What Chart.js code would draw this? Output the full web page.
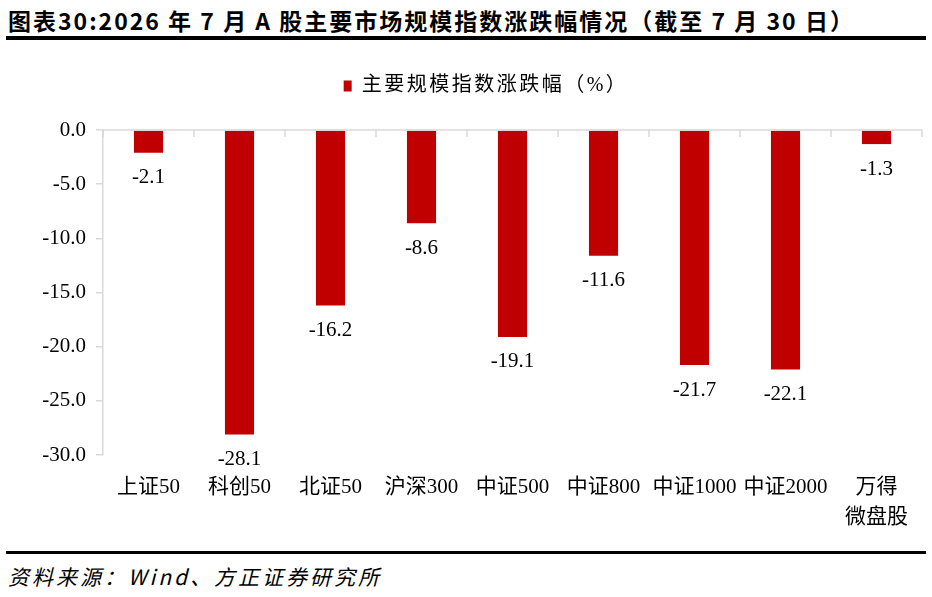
<!DOCTYPE html>
<html>
<head>
<meta charset="utf-8">
<script src="https://cdn.jsdelivr.net/npm/chart.js@4"></script>
<style>
  body { margin: 0; width: 932px; height: 597px; background: #fff; position: relative; overflow: hidden; }
  #title { position: absolute; left: 8px; top: 3px; font-family: "Noto Sans CJK SC", sans-serif; font-weight: bold; font-size: 23px; letter-spacing: 2px; color: #000; white-space: nowrap; }
  #topLine { position: absolute; left: 6px; right: 6px; top: 36px; height: 4px; background: #000; }
  #bottomLine { position: absolute; left: 6px; right: 6px; top: 551px; height: 3px; background: #000; }
  #source { position: absolute; left: 8px; top: 561px; font-family: "Noto Sans CJK SC", sans-serif; font-style: italic; font-size: 21px; letter-spacing: 3px; color: #000; white-space: nowrap; }
  #box { position: absolute; left: 0; top: 45px; width: 932px; height: 500px; }
</style>
</head>
<body>
<div id="title">图表30:2026 年 7 月 A 股主要市场规模指数涨跌幅情况（截至 7 月 30 日）</div>
<div id="topLine"></div>
<div id="box"><canvas id="mainChart"></canvas></div>
<div id="bottomLine"></div>
<div id="source">资料来源：Wind、方正证券研究所</div>
<script>
// categorias (índices)
const categorias = ['上证50', '科创50', '北证50', '沪深300', '中证500', '中证800', '中证1000', '中证2000', ['万得', '微盘股']];
// 涨跌幅 (%)
const variacoes = [-2.1, -28.1, -16.2, -8.6, -19.1, -11.6, -21.7, -22.1, -1.3];
const nomeSerie = '主要规模指数涨跌幅（%）';

const corBarra = '#C00000';
const corEixo = '#D9D9D9';
const fonteSerif = '"Liberation Serif", "Noto Sans CJK SC", serif';

// legenda: mais espaço abaixo, letras espaçadas e um pouco para a direita
const ajusteLegenda = {
    id: 'ajusteLegenda',
    beforeInit(chart) {
        const legenda = chart.legend;
        const fitOriginal = legenda.fit;
        const drawOriginal = legenda.draw;
        legenda.fit = function () {
            this.ctx.save();
            this.ctx.letterSpacing = '2.5px';
            fitOriginal.call(this);
            this.ctx.restore();
            this.height += 24;
        };
        legenda.draw = function () {
            this.ctx.save();
            this.ctx.letterSpacing = '2.5px';
            this.ctx.translate(25, 0);
            drawOriginal.call(this);
            this.ctx.restore();
        };
    }
};

// eixo horizontal no zero + marcas entre categorias (para baixo)
const eixoZero = {
    id: 'eixoZero',
    afterDraw(chart) {
        const ctx = chart.ctx;
        const x = chart.scales.x;
        const y0 = chart.scales.y.getPixelForValue(0);
        ctx.save();
        ctx.strokeStyle = corEixo;
        ctx.lineWidth = 1.5;
        ctx.beginPath();
        ctx.moveTo(chart.chartArea.left, y0);
        ctx.lineTo(chart.chartArea.right, y0);
        for (let i = 0; i <= categorias.length; i++) {
            const px = x.getPixelForValue(i - 0.5);
            ctx.moveTo(px, y0);
            ctx.lineTo(px, y0 + 7);
        }
        ctx.stroke();
        ctx.restore();
    }
};

// rótulos de valor abaixo das barras
const rotulos = {
    id: 'rotulos',
    afterDatasetsDraw(chart) {
        const ctx = chart.ctx;
        const meta = chart.getDatasetMeta(0);
        ctx.save();
        ctx.font = '21px ' + fonteSerif;
        ctx.fillStyle = '#000';
        ctx.textAlign = 'center';
        ctx.textBaseline = 'middle';
        meta.data.forEach((bar, i) => {
            ctx.fillText(variacoes[i].toFixed(1), bar.x, bar.y + 25);
        });
        ctx.restore();
    }
};

new Chart(document.getElementById('mainChart'), {
    type: 'bar',
    data: {
        labels: categorias,
        datasets: [{
            label: nomeSerie,
            data: variacoes,
            backgroundColor: corBarra,
            borderWidth: 0,
            barPercentage: 0.32,
            categoryPercentage: 1.0
        }]
    },
    options: {
        responsive: true,
        maintainAspectRatio: false,
        animation: false,
        layout: { padding: { left: 0, right: 10, top: 21, bottom: 0 } },
        plugins: {
            tooltip: { enabled: false },
            legend: {
                display: true,
                position: 'top',
                labels: {
                    boxWidth: 8,
                    boxHeight: 11,
                    color: '#000',
                    font: { family: fonteSerif, size: 20 },
                    padding: 10
                }
            }
        },
        scales: {
            x: {
                grid: { display: false },
                border: { display: false },
                ticks: {
                    color: '#000',
                    font: { family: fonteSerif, size: 21, lineHeight: 1.4 },
                    maxRotation: 0,
                    autoSkip: false,
                    padding: 10
                },
                afterFit(scale) { scale.height = 90; }
            },
            y: {
                min: -30,
                max: 0,
                ticks: {
                    stepSize: 5,
                    color: '#000',
                    font: { family: fonteSerif, size: 21 },
                    padding: 10,
                    callback: v => v.toFixed(1)
                },
                grid: {
                    drawOnChartArea: false,
                    color: corEixo,
                    tickLength: 7,
                    lineWidth: 1.5
                },
                border: { color: corEixo, width: 1.5 },
                afterFit(scale) { scale.width = 103; }
            }
        }
    },
    plugins: [ajusteLegenda, eixoZero, rotulos]
});
</script>
</body>
</html>
